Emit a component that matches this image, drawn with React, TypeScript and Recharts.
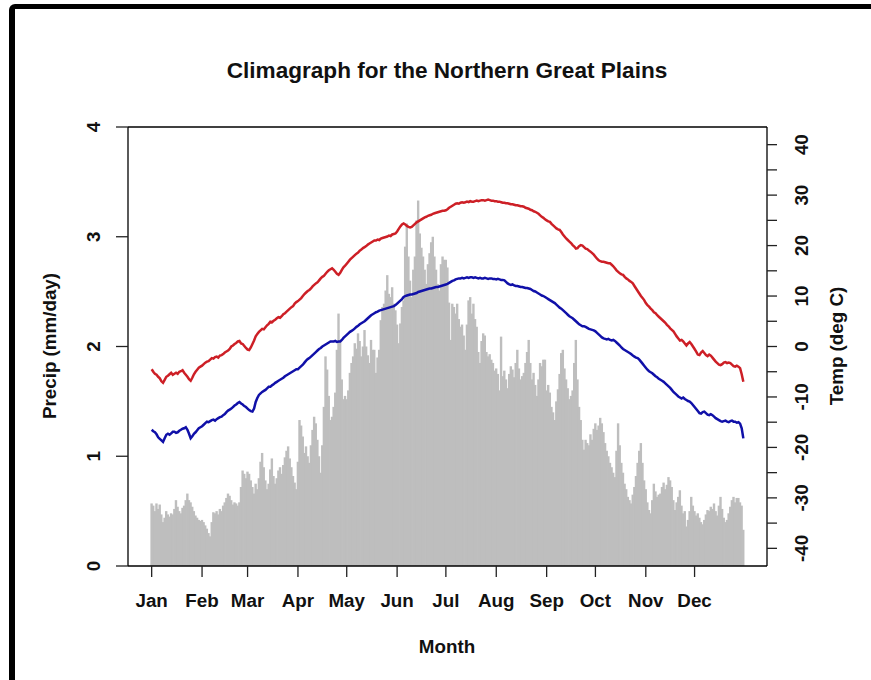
import { ComposedChart, Bar, Line, XAxis, YAxis } from "recharts";

const FONT = "'Liberation Sans', Arial, sans-serif";

// day-of-year where each month starts, and its label
const monthStarts = [1, 32, 60, 91, 121, 152, 182, 213, 244, 274, 305, 335];
const monthLabels = ["Jan", "Feb", "Mar", "Apr", "May", "Jun", "Jul", "Aug", "Sep", "Oct", "Nov", "Dec"];

const precipTicks = [0, 1, 2, 3, 4];
const tempTicks = [-40, -35, -30, -25, -20, -15, -10, -5, 0, 5, 10, 15, 20, 25, 30, 35, 40];

// daily mean precipitation (mm/day), Jan 1 .. Dec 31
const precip = [
  // Jan
  0.57, 0.55, 0.5, 0.57, 0.52, 0.56, 0.47, 0.4, 0.44, 0.5, 0.47, 0.45, 0.48, 0.47, 0.52, 0.6,
  0.54, 0.5, 0.48, 0.53, 0.55, 0.6, 0.66, 0.6, 0.58, 0.54, 0.5, 0.46, 0.44, 0.42, 0.41,
  // Feb
  0.42, 0.4, 0.37, 0.34, 0.3, 0.27, 0.4, 0.49, 0.48, 0.5, 0.47, 0.52, 0.5, 0.55, 0.58, 0.62,
  0.66, 0.64, 0.6, 0.56, 0.58, 0.57, 0.55, 0.58, 0.72, 0.87, 0.84, 0.8,
  // Mar
  0.86, 0.84, 0.78, 0.72, 0.66, 0.75, 0.7, 0.8, 0.95, 1.03, 0.9, 0.78, 0.7, 0.75, 0.88, 0.98,
  0.82, 0.75, 0.8, 0.87, 0.9, 0.84, 0.92, 0.99, 1.05, 1.09, 0.98, 0.9, 0.82, 0.76, 0.7,
  // Apr
  0.95, 1.33, 1.28, 1.18, 1.03, 1.09, 1.0, 0.94, 1.1, 1.24, 1.36, 1.3, 1.15, 1.0, 0.85, 1.1,
  1.45, 1.91, 1.79, 1.55, 1.33, 1.36, 1.45, 1.58, 1.97, 2.3, 2.05, 1.7, 1.52, 1.55,
  // May
  1.52, 1.6, 1.76, 1.85, 1.91, 2.03, 1.98, 2.12, 2.05, 1.91, 2.0, 2.15, 2.0, 1.92, 1.85, 2.06,
  1.97, 1.97, 1.76, 1.9, 1.97, 2.24, 2.36, 2.39, 2.51, 2.65, 2.48, 2.45, 2.54, 2.39, 2.33,
  // Jun
  2.2, 2.03, 2.21, 2.36, 2.42, 2.91, 3.12, 2.82, 2.6, 2.45, 2.7, 2.82, 3.15, 3.33, 3.03, 2.9,
  2.82, 2.7, 2.57, 2.75, 2.85, 2.95, 3.0, 2.82, 2.7, 2.57, 2.51, 2.75, 2.82, 2.79,
  // Jul
  2.79, 2.72, 2.4, 2.06, 2.39, 2.36, 2.3, 2.39, 2.25, 2.18, 2.2, 2.1, 1.97, 2.2, 2.42, 2.45,
  2.3, 2.39, 2.25, 2.18, 1.95, 1.85, 2.05, 2.12, 2.1, 1.95, 1.91, 1.93, 1.88, 1.85, 1.78,
  // Aug
  1.8, 1.75, 1.6, 2.09, 1.73, 1.78, 1.7, 1.62, 1.75, 1.82, 1.79, 1.72, 1.85, 1.97, 1.8, 1.7,
  1.73, 1.76, 1.85, 1.95, 2.06, 1.85, 1.7, 1.76, 1.65, 1.55, 1.7, 1.85, 1.82, 1.88, 1.88,
  // Sep
  1.6, 1.65, 1.58, 1.45, 1.4, 1.33, 1.5, 1.61, 1.75, 1.94, 1.97, 1.8, 1.7, 1.62, 1.52, 1.55,
  1.6, 1.85, 2.06, 1.7, 1.45, 1.33, 1.15, 1.06, 1.15, 1.12, 1.1, 1.2, 1.15, 1.25,
  // Oct
  1.3, 1.24, 1.28, 1.35, 1.3, 1.22, 1.12, 1.05, 1.0, 0.94, 0.9, 0.85, 0.81, 1.05, 1.3, 1.1,
  0.94, 0.85, 0.75, 0.7, 0.63, 0.6, 0.57, 0.65, 0.72, 0.82, 0.94, 1.05, 1.12, 0.94, 0.78,
  // Nov
  0.7, 0.58, 0.51, 0.48, 0.6, 0.75, 0.68, 0.63, 0.65, 0.66, 0.72, 0.76, 0.7, 0.74, 0.81, 0.78,
  0.72, 0.6, 0.51, 0.58, 0.63, 0.69, 0.55, 0.48, 0.5, 0.36, 0.42, 0.5, 0.63, 0.55,
  // Dec
  0.5, 0.46, 0.48, 0.44, 0.4, 0.38, 0.42, 0.47, 0.51, 0.5, 0.54, 0.52, 0.57, 0.5, 0.46, 0.55,
  0.63, 0.52, 0.44, 0.4, 0.42, 0.48, 0.54, 0.6, 0.63, 0.58, 0.62, 0.62, 0.58, 0.55, 0.33,
];

// daily mean maximum temperature (deg C)
const tmax = [
  // Jan
  -4.5, -5.0, -5.4, -5.6, -6.0, -6.3, -6.9, -7.2, -6.6, -6.0, -5.8, -5.5, -5.2, -5.6, -5.4, -5.2,
  -5.4, -5.0, -4.9, -4.7, -5.2, -5.6, -6.0, -6.5, -6.8, -6.2, -5.5, -5.0, -4.6, -4.2, -4.0,
  // Feb
  -3.8, -3.5, -3.2, -3.0, -2.9, -2.6, -2.3, -2.4, -2.1, -2.0, -2.2, -1.8, -1.7, -1.5, -1.2, -1.0,
  -0.8, -0.5, 0.0, 0.2, 0.5, 0.7, 1.0, 1.1, 0.6, 0.5, 0.1, -0.3,
  // Mar
  -0.6, -0.7, -0.2, 0.5, 1.2, 2.0, 2.5, 2.9, 3.2, 3.5, 3.4, 3.8, 4.2, 4.5, 4.9, 4.8,
  5.1, 5.3, 5.6, 5.8, 5.7, 6.0, 6.4, 6.6, 6.9, 7.2, 7.5, 7.8, 8.0, 8.5, 8.8,
  // Apr
  9.0, 9.3, 9.6, 10.0, 10.4, 10.7, 11.0, 11.2, 11.5, 11.9, 12.2, 12.5, 12.7, 13.1, 13.5, 13.8,
  14.0, 14.4, 14.8, 15.1, 15.3, 15.5, 15.2, 14.8, 14.4, 14.2, 14.6, 15.2, 15.7, 16.0,
  // May
  16.4, 16.8, 17.2, 17.5, 17.8, 18.1, 18.4, 18.6, 19.0, 19.2, 19.5, 19.7, 19.9, 20.2, 20.4, 20.6,
  20.8, 21.0, 21.0, 21.2, 21.1, 21.4, 21.5, 21.6, 21.7, 21.8, 22.0, 21.9, 22.2, 22.3, 22.4,
  // Jun
  22.8, 23.3, 23.8, 24.2, 24.4, 24.2, 23.9, 23.7, 23.6, 23.7, 24.0, 24.3, 24.6, 24.8, 25.0, 25.2,
  25.4, 25.6, 25.7, 25.9, 26.0, 26.1, 26.3, 26.4, 26.5, 26.6, 26.7, 26.8, 26.9, 26.9,
  // Jul
  27.0, 27.2, 27.5, 27.7, 27.9, 28.1, 28.3, 28.4, 28.3, 28.5, 28.6, 28.5, 28.6, 28.7, 28.6, 28.8,
  28.7, 28.7, 28.8, 28.9, 28.8, 28.9, 29.0, 29.0, 28.9, 29.0, 29.1, 29.0, 28.9, 28.9, 28.8,
  // Aug
  28.8, 28.7, 28.7, 28.6, 28.5, 28.5, 28.4, 28.4, 28.3, 28.2, 28.2, 28.1, 28.0, 28.0, 27.9, 27.8,
  27.8, 27.7, 27.5, 27.4, 27.3, 27.1, 27.0, 26.8, 26.7, 26.5, 26.3, 26.0, 25.7, 25.5, 25.2,
  // Sep
  25.0, 24.8, 24.7, 24.3, 24.0, 23.7, 23.4, 23.2, 23.1, 22.7, 22.2, 21.8, 21.4, 21.1, 20.8, 20.5,
  20.1, 19.8, 19.4, 19.5, 19.9, 20.1, 20.0, 19.7, 19.4, 19.3, 19.0, 18.8, 18.5, 18.2,
  // Oct
  17.8, 17.4, 17.1, 16.9, 16.8, 16.8, 16.7, 16.6, 16.5, 16.5, 16.2, 15.9, 15.5, 15.1, 14.8, 14.5,
  14.3, 14.2, 13.8, 13.5, 13.3, 13.0, 12.8, 12.5, 12.0, 11.5, 11.0, 10.5, 10.0, 9.6, 9.2,
  // Nov
  8.6, 8.2, 7.9, 7.5, 7.2, 6.8, 6.6, 6.2, 5.9, 5.6, 5.3, 5.0, 4.7, 4.3, 4.0, 3.6,
  3.3, 3.0, 2.5, 2.0, 1.6, 1.2, 1.3, 1.0, 0.6, 0.2, 0.6, 0.9, 0.5, 0.0,
  // Dec
  -0.5, -1.0, -1.6, -1.7, -1.2, -0.9, -1.3, -1.7, -1.9, -1.6, -1.8, -2.2, -2.6, -3.0, -3.3, -3.6,
  -3.7, -3.5, -3.2, -3.1, -3.3, -3.2, -3.3, -3.6, -3.9, -4.0, -3.8, -4.0, -4.3, -5.5, -7.0,
];

// daily mean minimum temperature (deg C)
const tmin = [
  // Jan
  -16.5, -16.8, -17.0, -17.4, -18.0, -18.3, -18.6, -18.9, -18.2, -17.5, -17.3, -17.5, -17.2, -16.9, -16.9, -17.1,
  -17.0, -16.7, -16.5, -16.3, -16.2, -16.0, -16.5, -17.3, -18.2, -17.8, -17.3, -17.0, -16.6, -16.2, -16.0,
  // Feb
  -15.8, -15.5, -15.2, -14.9, -15.0, -14.8, -14.6, -14.5, -14.7, -14.4, -14.2, -14.0, -13.9, -13.6, -13.4, -13.0,
  -12.7, -12.5, -12.3, -12.0, -11.7, -11.5, -11.2, -11.0, -11.3, -11.5, -11.8, -12.0,
  // Mar
  -12.3, -12.6, -12.8, -12.9, -12.3, -11.0, -10.2, -9.6, -9.3, -9.0, -8.8, -8.6, -8.3, -8.0, -8.0, -7.7,
  -7.5, -7.2, -7.0, -6.8, -6.6, -6.4, -6.2, -5.9, -5.7, -5.5, -5.3, -5.1, -4.9, -4.7, -4.5,
  // Apr
  -4.5, -4.2, -3.9, -3.6, -3.2, -2.8, -2.5, -2.3, -2.0, -1.7, -1.4, -1.1, -0.8, -0.5, -0.3, 0.0,
  0.2, 0.4, 0.6, 0.8, 1.0, 1.0, 1.0, 1.1, 0.9, 1.0, 1.0, 1.3, 1.7, 2.0,
  // May
  2.3, 2.6, 2.9, 3.1, 3.3, 3.6, 3.9, 4.1, 4.4, 4.6, 4.8, 5.0, 5.3, 5.6, 5.9, 6.2,
  6.4, 6.6, 6.8, 6.9, 7.1, 7.2, 7.3, 7.4, 7.5, 7.6, 7.7, 7.8, 7.9, 8.0, 8.2,
  // Jun
  8.5, 8.8, 9.1, 9.4, 9.8, 10.0, 10.1, 10.2, 10.3, 10.3, 10.4, 10.5, 10.6, 10.8, 10.9, 11.0,
  11.1, 11.2, 11.3, 11.4, 11.5, 11.5, 11.6, 11.7, 11.8, 11.8, 11.9, 12.0, 12.1, 12.2,
  // Jul
  12.3, 12.4, 12.6, 12.8, 13.0, 13.1, 13.3, 13.4, 13.5, 13.5, 13.6, 13.5, 13.6, 13.7, 13.6, 13.7,
  13.7, 13.6, 13.7, 13.6, 13.5, 13.6, 13.5, 13.5, 13.6, 13.5, 13.4, 13.5, 13.5, 13.4, 13.4,
  // Aug
  13.3, 13.4, 13.3, 13.2, 13.2, 13.1, 12.8, 12.5, 12.3, 12.2, 12.3, 12.1, 12.0, 12.0, 11.9, 11.8,
  11.8, 11.7, 11.6, 11.6, 11.5, 11.4, 11.2, 11.0, 10.9, 10.7, 10.5, 10.3, 10.1, 10.0, 9.8,
  // Sep
  9.6, 9.4, 9.2, 9.0, 8.8, 8.6, 8.3, 8.0, 7.7, 7.5, 7.2, 6.9, 6.6, 6.3, 6.0, 5.8,
  5.6, 5.3, 5.0, 4.7, 4.4, 4.2, 4.0, 4.0, 3.9, 3.7, 3.5, 3.4, 3.3, 3.2,
  // Oct
  3.0, 2.7, 2.4, 2.1, 1.8, 1.6, 1.5, 1.4, 1.5, 1.3, 1.2, 1.3, 1.1, 0.8, 0.5, 0.2,
  -0.2, -0.5, -0.7, -0.9, -1.1, -1.3, -1.5, -1.8, -2.0, -2.2, -2.3, -2.6, -3.0, -3.4, -3.8,
  // Nov
  -4.2, -4.6, -4.9, -5.1, -5.3, -5.6, -5.9, -6.1, -6.4, -6.6, -6.8, -7.0, -7.3, -7.6, -7.9, -8.2,
  -8.6, -9.0, -9.3, -9.6, -9.9, -10.1, -10.3, -10.1, -10.4, -10.6, -10.8, -10.9, -11.2, -11.6,
  // Dec
  -12.0, -12.4, -12.8, -13.2, -13.3, -13.0, -12.9, -13.2, -13.5, -13.6, -13.4, -13.6, -13.9, -14.2, -14.4, -14.6,
  -14.8, -14.9, -14.8, -14.7, -14.9, -15.0, -14.8, -14.7, -14.9, -14.9, -15.1, -15.0, -15.3, -16.2, -18.2,
];

const data = precip.map((p, i) => ({ day: i + 1, precip: p, tmax: tmax[i], tmin: tmin[i] }));

// R-style 4% padding around day 1..365
const xDomain = [-13.56, 379.56];

const tickText = {
  fontFamily: FONT,
  fontWeight: 700,
  fontSize: 18.8,
  fill: "#111",
};

function LeftTick({ x, y, payload }: any) {
  return (
    <text x={x} y={y} transform={`rotate(-90 ${x} ${y})`} textAnchor="middle" style={tickText}>
      {payload.value}
    </text>
  );
}

function RightTick({ x, y, payload }: any) {
  // minor ticks every 5 degrees carry no label
  if (payload.value % 10 !== 0) return null;
  return (
    <text x={x} y={y} transform={`rotate(-90 ${x} ${y})`} textAnchor="middle" style={tickText}>
      {payload.value}
    </text>
  );
}

// type="h" style spike: widen the slot a little so neighbouring days touch
function Spike({ x, y, width, height, fill }: any) {
  if (!height || height <= 0) return null;
  const cx = x + width / 2;
  return <rect x={cx - 1.2} y={y} width={2.4} height={height} fill={fill} />;
}

export default function App() {
  return (
    <div style={{ position: "absolute", left: 0, top: 0, width: 871, height: 680, background: "#fff", overflow: "hidden" }}>
      {/* frame of the original screenshot */}
      <div
        style={{
          position: "absolute",
          left: 9,
          top: 4,
          width: 900,
          height: 720,
          borderTop: "5px solid #000",
          borderLeft: "6px solid #000",
          borderTopLeftRadius: 6,
        }}
      />

      <div style={{ position: "absolute", left: 0, top: 0 }}>
        <ComposedChart width={871} height={680} data={data} margin={{ top: 126, right: 44, left: 68, bottom: 54 }}>
          <XAxis
            dataKey="day"
            type="number"
            domain={xDomain}
            ticks={monthStarts}
            tickFormatter={(v: number) => monthLabels[monthStarts.indexOf(v)]}
            height={60}
            tickSize={11}
            tickMargin={17}
            tick={tickText}
            axisLine={{ stroke: "#000", strokeWidth: 1.3 }}
            tickLine={{ stroke: "#222", strokeWidth: 1.3 }}
            interval={0}
          />
          {/* top edge of the plot box */}
          <XAxis
            xAxisId="top"
            orientation="top"
            dataKey="day"
            type="number"
            domain={xDomain}
            height={1}
            tick={false}
            tickLine={false}
            axisLine={{ stroke: "#000", strokeWidth: 1.3 }}
          />
          <YAxis
            yAxisId="precip"
            orientation="left"
            domain={[0, 4]}
            ticks={precipTicks}
            width={60}
            tickSize={12}
            tickMargin={16}
            tick={<LeftTick />}
            axisLine={{ stroke: "#000", strokeWidth: 1.3 }}
            tickLine={{ stroke: "#222", strokeWidth: 1.3 }}
            interval={0}
          />
          <YAxis
            yAxisId="temp"
            orientation="right"
            domain={[-43.5, 43.5]}
            ticks={tempTicks}
            width={60}
            tickSize={10}
            tickMargin={31}
            tick={<RightTick />}
            axisLine={{ stroke: "#000", strokeWidth: 1.3 }}
            tickLine={{ stroke: "#222", strokeWidth: 1.3 }}
            interval={0}
          />

          {/* daily precipitation as thin bars */}
          <Bar
            yAxisId="precip"
            dataKey="precip"
            fill="#bebebe"
            barSize={2}
            shape={<Spike />}
            isAnimationActive={false}
          />

          {/* max / min temperature */}
          <Line
            yAxisId="temp"
            type="linear"
            dataKey="tmax"
            stroke="#cd1f26"
            strokeWidth={2.5}
            dot={false}
            isAnimationActive={false}
          />
          <Line
            yAxisId="temp"
            type="linear"
            dataKey="tmin"
            stroke="#1010a8"
            strokeWidth={2.5}
            dot={false}
            isAnimationActive={false}
          />
        </ComposedChart>
      </div>

      {/* title and axis titles */}
      <svg width={871} height={680} style={{ position: "absolute", left: 0, top: 0, pointerEvents: "none" }}>
        <text x={447} y={78} textAnchor="middle" style={{ ...tickText, fontSize: 22.6 }}>
          Climagraph for the Northern Great Plains
        </text>
        <text x={447} y={653} textAnchor="middle" style={tickText}>
          Month
        </text>
        <text x={56} y={346} transform="rotate(-90 56 346)" textAnchor="middle" style={tickText}>
          Precip (mm/day)
        </text>
        <text x={843} y={346} transform="rotate(-90 843 346)" textAnchor="middle" style={tickText}>
          Temp (deg C)
        </text>
      </svg>
    </div>
  );
}
